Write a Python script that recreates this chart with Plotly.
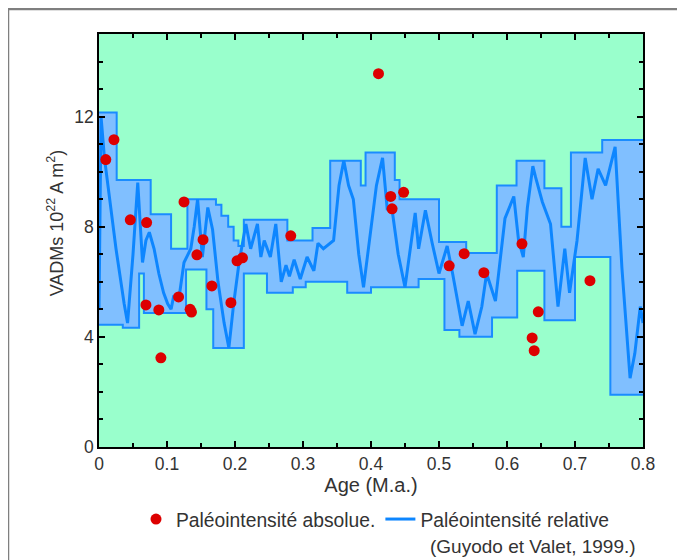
import plotly.graph_objects as go

# ---- Absolute palaeointensity (red dots) ----
abs_age = [0.010, 0.022, 0.046, 0.070, 0.069, 0.088, 0.091, 0.125, 0.117, 0.134, 0.136,
           0.144, 0.153, 0.166, 0.194, 0.203, 0.211, 0.282, 0.411, 0.429, 0.448, 0.431,
           0.515, 0.537, 0.566, 0.622, 0.646, 0.637, 0.640, 0.722]
abs_vadm = [10.44, 11.16, 8.25, 8.15, 5.16, 4.98, 3.24, 8.9, 5.45, 5.0, 4.9,
            6.98, 7.53, 5.85, 5.24, 6.76, 6.87, 7.67, 13.56, 9.1, 9.25, 8.65,
            6.58, 7.02, 6.33, 7.38, 4.91, 3.96, 3.5, 6.04]

# ---- Relative palaeointensity (Guyodo & Valet 1999), centre curve ----
rel_age = [0.000, 0.003, 0.008, 0.015, 0.025, 0.037, 0.042, 0.050, 0.057, 0.064, 0.069,
           0.074, 0.081, 0.088, 0.095, 0.101, 0.106, 0.110, 0.117, 0.125, 0.135, 0.140,
           0.145, 0.152, 0.160, 0.167, 0.175, 0.184, 0.191, 0.198, 0.206, 0.216, 0.223,
           0.233, 0.238, 0.243, 0.252, 0.260, 0.268, 0.275, 0.280, 0.287, 0.296, 0.306,
           0.316, 0.322, 0.330, 0.345, 0.353, 0.360, 0.367, 0.374, 0.382, 0.389, 0.398,
           0.408, 0.417, 0.424, 0.430, 0.440, 0.450, 0.457, 0.465, 0.470, 0.480, 0.490,
           0.500, 0.512, 0.520, 0.534, 0.543, 0.553, 0.563, 0.570, 0.583, 0.597, 0.610,
           0.617, 0.624, 0.630, 0.638, 0.642, 0.652, 0.664, 0.675, 0.685, 0.692, 0.703,
           0.715, 0.725, 0.734, 0.745, 0.752, 0.759, 0.769, 0.781, 0.788, 0.796, 0.800]
rel_vadm = [5.0, 12.0, 10.5, 9.1, 7.2, 5.2, 4.5, 7.0, 9.6, 6.7, 7.5,
            7.8, 7.2, 6.3, 5.6, 5.2, 5.0, 5.5, 5.3, 6.7, 7.2, 8.0,
            9.0, 6.9, 8.7, 7.9, 6.0, 4.5, 3.6, 5.2, 6.7, 8.1, 7.2,
            8.1, 6.9, 7.5, 6.9, 8.1, 6.0, 6.6, 6.2, 6.8, 6.1, 6.9,
            6.4, 7.4, 7.2, 7.5, 9.5, 10.4, 9.5, 9.0, 7.0, 5.8, 7.5,
            9.5, 10.5, 8.6, 8.8, 7.0, 5.8, 7.0, 8.5, 7.2, 8.6, 7.4,
            6.3, 7.3, 6.3, 4.4, 5.3, 4.1, 5.1, 6.3, 5.3, 8.3, 9.1,
            7.5, 6.9, 8.7, 10.2, 9.8, 8.9, 8.1, 5.1, 7.2, 5.6, 7.5,
            10.5, 9.0, 10.1, 9.5, 10.2, 10.9, 6.5, 2.5, 3.4, 5.1, 4.5]

# ---- Uncertainty envelope (step edges) ----
band_age = [0.000, 0.026, 0.035, 0.059, 0.066, 0.076, 0.106, 0.128, 0.130, 0.158, 0.168,
            0.172, 0.180, 0.190, 0.198, 0.205, 0.213, 0.247, 0.277, 0.285, 0.304, 0.314,
            0.340, 0.365, 0.385, 0.392, 0.400, 0.435, 0.442, 0.470, 0.500, 0.508, 0.530,
            0.540, 0.578, 0.585, 0.614, 0.615, 0.655, 0.680, 0.694, 0.700, 0.740, 0.752,
            0.800]
band_upper = [12.15, 9.7, 9.7, 9.7, 9.7, 8.45, 7.2, 7.2, 9.0, 9.0, 9.0,
              8.8, 8.4, 8.0, 7.5, 7.3, 8.25, 8.25, 7.5, 7.5, 7.5, 7.95,
              10.4, 10.4, 9.5, 10.7, 10.7, 9.7, 9.0, 9.0, 7.45, 7.45, 7.45,
              7.05, 7.05, 9.5, 10.4, 10.4, 9.4, 8.0, 10.7, 10.7, 11.15, 11.15,
              11.15]
band_lower = [4.44, 4.44, 4.33, 6.3, 4.87, 4.87, 4.87, 6.45, 6.45, 5.0, 3.6,
              3.6, 3.6, 3.6, 3.6, 3.6, 6.3, 5.6, 5.6, 5.8, 6.0, 6.0,
              6.0, 5.6, 5.6, 5.6, 5.8, 5.8, 5.8, 6.1, 6.1, 4.25, 4.0,
              4.0, 4.7, 4.7, 4.7, 6.4, 4.6, 4.6, 4.6, 6.9, 6.9, 1.9,
              1.9]

x_ticks = [0, 0.1, 0.2, 0.3, 0.4, 0.5, 0.6, 0.7, 0.8]
x_ticklabels = ["0", "0.1", "0.2", "0.3", "0.4", "0.5", "0.6", "0.7", "0.8"]
y_ticks = [0, 4, 8, 12]
y_ticklabels = ["0", "4", "8", "12"]

BAND_FILL = "#80bfff"
BAND_EDGE = "#1a8cff"
LINE_COL = "#0d86ff"
DOT_COL = "#dd0000"
BG = "#99ffcc"
TXT = "#333333"
FONT = "Liberation Sans, Arial, sans-serif"

# plot-area geometry in figure pixels (page offset of 8px body margin removed)
L, R, T, B = 91, 635, 26, 439
W, H = 685, 560
PW, PH = R - L, B - T

fig = go.Figure()

fig.add_trace(go.Scatter(x=band_age, y=band_lower, mode="lines", line_shape="hv",
                         line=dict(color=BAND_EDGE, width=2), showlegend=False,
                         hoverinfo="skip"))
fig.add_trace(go.Scatter(x=band_age, y=band_upper, mode="lines", line_shape="hv",
                         line=dict(color=BAND_EDGE, width=2), fill="tonexty",
                         fillcolor=BAND_FILL, showlegend=False, hoverinfo="skip"))
fig.add_trace(go.Scatter(x=rel_age, y=rel_vadm, mode="lines",
                         line=dict(color=LINE_COL, width=3),
                         name="Paléointensité relative"))
fig.add_trace(go.Scatter(x=abs_age, y=abs_vadm, mode="markers",
                         marker=dict(color=DOT_COL, size=11, line=dict(width=0)),
                         name="Paléointensité absolue."))

axis_common = dict(showline=True, linecolor="black", linewidth=1.5, mirror="allticks",
                   ticks="inside", ticklen=6, tickwidth=1.5, tickcolor="black",
                   showgrid=False, zeroline=False,
                   tickfont=dict(family=FONT, size=17.5, color=TXT))

fig.update_xaxes(range=[0, 0.8], tickvals=x_ticks, ticktext=x_ticklabels,
                 minor=dict(dtick=0.05, ticks="inside", ticklen=4, tickwidth=1.5,
                            tickcolor="black", showgrid=False),
                 title=dict(text="Age (M.a.)", font=dict(family=FONT, size=20, color=TXT),
                            standoff=4),
                 **axis_common)
fig.update_yaxes(range=[0, 15], tickvals=y_ticks, ticktext=y_ticklabels,
                 minor=dict(dtick=1, ticks="inside", ticklen=4, tickwidth=1.5,
                            tickcolor="black", showgrid=False),
                 title=dict(text="&nbsp;" * 7 + "VADMs 10<sup>22</sup> A m<sup>2</sup>)",
                            font=dict(family=FONT, size=18, color=TXT), standoff=6),
                 **axis_common)

fig.update_layout(
    width=W, height=H,
    margin=dict(l=L, r=W - R, t=T, b=H - B, autoexpand=False),
    paper_bgcolor="white", plot_bgcolor=BG,
    font=dict(family=FONT, size=17.5, color=TXT),
    legend=dict(orientation="h", traceorder="reversed",
                x=(128 - L) / PW, y=-(492 - B) / PH,
                xanchor="left", yanchor="top",
                font=dict(family=FONT, size=19.3, color=TXT),
                bgcolor="rgba(0,0,0,0)", itemwidth=30, tracegroupgap=0),
    annotations=[dict(text="(Guyodo et Valet, 1999.)", xref="paper", yref="paper",
                      x=(630 - L) / PW, y=-(538 - B) / PH, xanchor="right", yanchor="middle",
                      showarrow=False, font=dict(family=FONT, size=19, color=TXT))],
    shapes=[dict(type="rect", xref="paper", yref="paper",
                 x0=(0 - L) / PW, x1=1.3, y0=-0.6, y1=(B - 1) / PH,
                 line=dict(color="#7f7f7f", width=2.5), fillcolor="rgba(0,0,0,0)",
                 layer="below")],
)

fig.write_html("out.html")
